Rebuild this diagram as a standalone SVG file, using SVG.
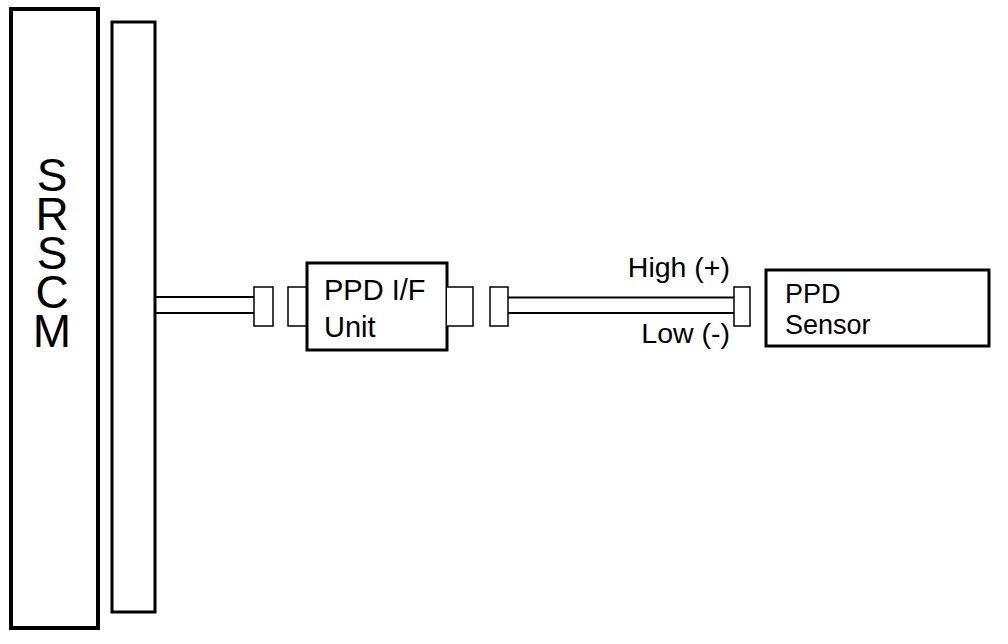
<svg xmlns="http://www.w3.org/2000/svg" width="1008" height="644" viewBox="0 0 1008 644">
<style>
.box{fill:#fff;stroke:#000;stroke-width:3}
.conn{fill:#fff;stroke:#000;stroke-width:1.5}
.wire{fill:none;stroke:#000;stroke-width:2}
text{font-family:"Liberation Sans",Arial,sans-serif;fill:#000}
</style>
<rect width="1008" height="644" fill="#fff"/>
<g id="srscm">
<rect x="11" y="9" width="87" height="619" fill="#fff" stroke="#000" stroke-width="4"/>
<text x="52" y="149" font-size="46" writing-mode="vertical-rl" letter-spacing="-13" style="text-orientation:upright">SRSCM</text>
</g>
<g id="srscm-connector">
<rect x="112" y="22" width="43" height="590" class="box"/>
</g>
<g id="connectors">
<line x1="155" y1="297" x2="254" y2="297" class="wire"/>
<line x1="155" y1="313" x2="254" y2="313" class="wire"/>
<line x1="508" y1="297.5" x2="734" y2="297.5" class="wire"/>
<line x1="508" y1="313" x2="734" y2="313" class="wire"/>
</g>
<g id="plug-1">
<rect x="254" y="287" width="19" height="39" class="conn"/>
</g>
<g id="plug-2">
<path d="M307 287 H288 V326 H307" class="conn"/>
</g>
<g id="ppd-if-unit">
<rect x="307" y="263" width="140" height="87" class="box"/>
<text x="324" y="300" font-size="29">PPD I/F</text>
<text x="324" y="337" font-size="29">Unit</text>
</g>
<g id="plug-3">
<path d="M447 287 H473 V326 H447" class="conn"/>
</g>
<g id="plug-4">
<rect x="490" y="287" width="18" height="39" class="conn"/>
</g>
<g id="plug-5">
<rect x="734" y="287" width="16" height="39" class="conn"/>
</g>
<g id="labels" font-size="28.5" text-anchor="end">
<text x="730" y="277">High (+)</text>
<text x="730" y="343">Low (-)</text>
</g>
<g id="ppd-sensor">
<rect x="766" y="270" width="223" height="76" class="box"/>
<text x="785" y="303" font-size="27">PPD</text>
<text x="785" y="334" font-size="27">Sensor</text>
</g>
</svg>
